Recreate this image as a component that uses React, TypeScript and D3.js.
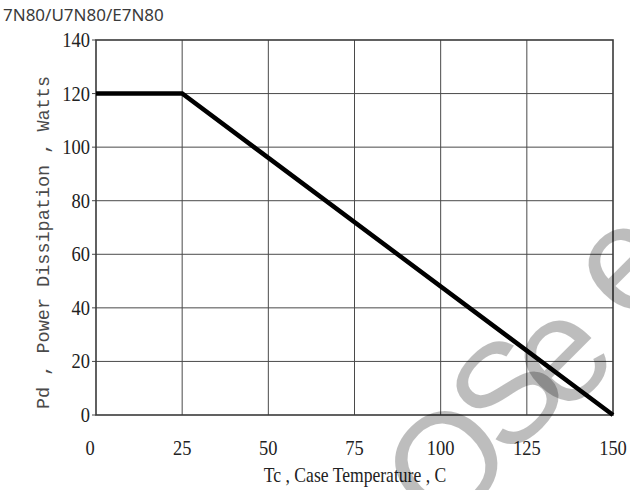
import { useMemo } from "react";
import * as d3 from "d3";

const temps = [0, 25, 150];
const power = [120, 120, 0];
const xTicks = [0, 25, 50, 75, 100, 125, 150];
const yTicks = [0, 20, 40, 60, 80, 100, 120, 140];

// watermark letters (partly visible in the source picture)
const markLetters = ["O", "S", "e", "e"];

const W = 630;
const H = 490;
const PLOT = { left: 96, right: 613, top: 40, bottom: 415 };
const SERIF = "'Liberation Serif', 'Times New Roman', serif";
const GRID = "#4a4a4a";
const MARK_POS: [number, number][] = [
  [446, 462],
  [506, 392],
  [556, 352],
  [620, 260],
];

export default function App() {
  const x = useMemo(() => d3.scaleLinear().domain([0, 150]).range([PLOT.left, PLOT.right]), []);
  const y = useMemo(() => d3.scaleLinear().domain([0, 140]).range([PLOT.bottom, PLOT.top]), []);

  const points = temps.map((t, i) => [t, power[i]] as [number, number]);
  const line = d3
    .line<[number, number]>()
    .x((d) => x(d[0]))
    .y((d) => y(d[1]))(points);

  return (
    <svg
      width={W}
      height={H}
      style={{ position: "absolute", left: 0, top: 0, background: "#fff" }}
    >
      <rect width={W} height={H} fill="#fff" />
      <text x={3} y={21} fontFamily="'Noto Sans', 'DejaVu Sans', sans-serif" fontSize={17} fill="#3a3a3a">
        7N80/U7N80/E7N80
      </text>

      {/* grid */}
      {xTicks.slice(1, -1).map((t) => (
        <line key={"gx" + t} x1={x(t)} x2={x(t)} y1={PLOT.top} y2={PLOT.bottom} stroke={GRID} strokeWidth={1} />
      ))}
      {yTicks.slice(1, -1).map((t) => (
        <line key={"gy" + t} x1={PLOT.left} x2={PLOT.right} y1={y(t)} y2={y(t)} stroke={GRID} strokeWidth={1} />
      ))}
      {yTicks.map((t) => (
        <line key={"ty" + t} x1={PLOT.left - 4} x2={PLOT.left} y1={y(t)} y2={y(t)} stroke={GRID} strokeWidth={1} />
      ))}
      <rect
        x={PLOT.left}
        y={PLOT.top}
        width={PLOT.right - PLOT.left}
        height={PLOT.bottom - PLOT.top}
        fill="none"
        stroke="#3a3a3a"
        strokeWidth={1.6}
      />

      <path d={line ?? ""} fill="none" stroke="#000" strokeWidth={4.5} strokeLinejoin="miter" />

      {/* y tick labels */}
      {yTicks.map((t) => (
        <g key={"ly" + t} transform={`translate(${PLOT.left - 6},${y(t) + 7}) scale(0.88,1)`}>
          <text textAnchor="end" fontFamily={SERIF} fontSize={21} fill="#222">
            {t}
          </text>
        </g>
      ))}
      {/* x tick labels */}
      {xTicks.map((t) => (
        <g key={"lx" + t} transform={`translate(${x(t) - (t === 0 ? 6 : 0)},${455}) scale(0.88,1)`}>
          <text textAnchor="middle" fontFamily={SERIF} fontSize={21} fill="#222">
            {t}
          </text>
        </g>
      ))}

      <g transform={`translate(355,482) scale(0.88,1)`}>
        <text textAnchor="middle" fontFamily={SERIF} fontSize={20} fill="#222">
          Tc , Case Temperature , C
        </text>
      </g>
      <text
        transform={`translate(49,${(PLOT.top + PLOT.bottom) / 2 + 15}) rotate(-90)`}
        textAnchor="middle"
        fontFamily="'Liberation Mono', 'DejaVu Sans Mono', monospace"
        fontSize={18.5}
        fill="#4a4a4a"
      >
        Pd , Power Dissipation , Watts
      </text>

      {/* watermark */}
      {markLetters.map((ch, i) => (
        <text
          key={"wm" + i}
          transform={`translate(${MARK_POS[i][0]},${MARK_POS[i][1]}) rotate(-45)`}
          textAnchor="middle"
          dominantBaseline="central"
          fontFamily="'Liberation Sans', Arial, sans-serif"
          fontSize={ch === "e" ? 150 : 142}
          fill="#000"
          fillOpacity={0.26}
        >
          {ch}
        </text>
      ))}
    </svg>
  );
}
